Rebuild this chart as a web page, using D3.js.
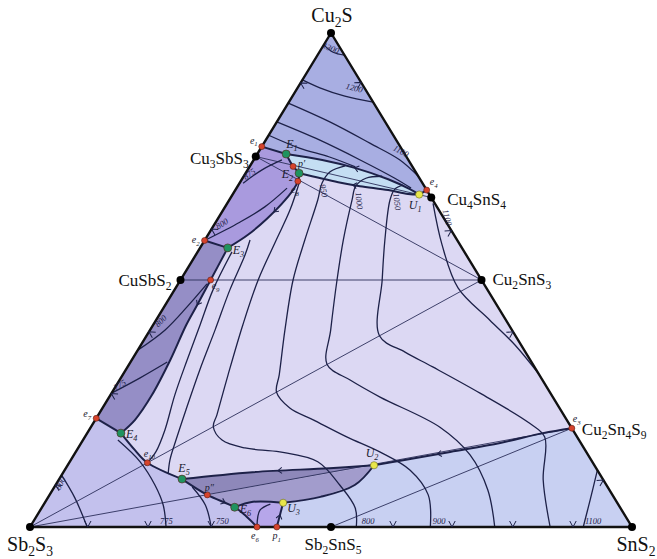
<!DOCTYPE html>
<html><head><meta charset="utf-8">
<script src="https://cdn.jsdelivr.net/npm/d3@7"></script>
<style>body{margin:0;background:#fff}svg{display:block}</style>
</head><body>
<svg id="c" width="657" height="559"></svg>
<script>
// All compositions are [mol% Cu2S, mol% SnS2]; Sb2S3 is the remainder.
const compounds = [["Cu2S",100,0],["Sb2S3",0,0],["SnS2",0,100],["Cu3SbS3",75,0],["CuSbS2",50,0],
  ["Cu4SnS4",66.7,33.3],["Cu2SnS3",50,50],["Sb2SnS5",0,50]];
const invariantPoints = [["e1",77,0,"e"],["E1",75.5,4.8,"E"],["p'",73,7.2,"e"],["E2",71.6,8.9,"E"],["e8",70,9.5,"e"],
  ["U1",67.3,31,"U"],["e4",68.2,31.8,"e"],["e2",58,0,"e"],["E3",56.5,4.6,"E"],["e9",50,5,"e"],
  ["e7",22,0,"e"],["E4",19,5.6,"E"],["e10",13,13,"e"],["E5",9.7,20.4,"E"],["p''",6.5,26.2,"e"],
  ["E6",4,32,"E"],["e6",0,37.7,"e"],["p1",0,41,"e"],["U3",4.9,39.6,"U"],["U2",12.5,50.9,"U"],["e3",20,80,"e"]];
const extraLabel = ["Cu2Sn4S9",20,80];

// univariant boundary curves
const bE1 = [[77,0],[75.5,4.8]];
const upperE1U1 = [[75.5,4.8],[74.3,11.4],[72.7,17.6],[70.4,24.3],[68.4,28.9],[67.3,31]];
const lowerE2U1 = [[71.6,8.9],[69.8,16.3],[69,20.3],[68.2,25.4],[67.4,29.1],[67.3,31]];
const bU1e4 = [[67.3,31],[68.2,31.8]];
const bE1E2 = [[75.5,4.8],[73,7.2],[71.6,8.9],[70,9.5]];
const purpleRight = [[70,9.5],[69.2,9.6],[66.2,9.3],[62.5,8.2],[59.1,6.6],[56.5,4.6]];
const bE3e2 = [[58,0],[56.5,4.6]];
const stripRight = [[56.5,4.6],[50,5],[44.9,5.3],[40.9,5.5],[33.8,6.4],[26.7,6.9],[21.7,6.6],[19,5.6]];
const be7E4 = [[22,0],[19,5.6]];
const bE4E5 = [[19,5.6],[15.6,9.6],[13,13],[9.7,20.4]];
const bE5e6 = [[9.7,20.4],[6.5,26.2],[4,32],[2.2,34.8],[0,37.7]];
const bE5U2 = [[9.7,20.4],[11.1,31.4],[11.9,43.8],[12.5,50.9]];
const bU2U3 = [[12.5,50.9],[8.5,49.7],[6.1,45.2],[4.9,39.6]];
const bU3E6 = [[4.9,39.6],[5.1,34.5],[4,32]];
const bU3p1 = [[4.9,39.6],[0,41]];
const bU2e3 = [[12.5,50.9],[13.4,54.8],[15.2,62.2],[17,69.6],[19,75.7],[20,80]];

// tie lines (joins)
const tieLines = [[[50,0],[50,50]],[[75,0],[50,50]],[[0,0],[50,50]],[[0,0],[20,80]],[[0,50],[20,80]],[[75,0],[66.7,33.3]]];

// isotherms
const iso1300 = [[97.6,0],[96.1,2.3],[95.5,4.5]];
const iso1200 = [[90.5,0],[88.9,3.7],[87.2,8.7],[86,14]];
const iso1100 = [[85.8,0],[82,8.8],[77.7,17.6],[74.3,24.3],[71,29]];
const isoL4 = [[82,0],[78.3,9],[74.3,17.7],[70.6,25.3],[68.6,29]];
const isoL5 = [[79.3,0],[76.7,6.4],[74.9,12.3],[72.9,17.6]];
const isoC1 = [[70.2,9.75],[64.2,11.1],[57.7,11.9],[50,12.9],[40.9,14.9],[30.8,17.5],[22.7,19.7],[20.3,20.3],[17.6,23.1],[16,27.7],[15.2,33.9],[13.2,41.2],[8.5,47.2],[3.85,52.1],[0,54.2]];
const isoC2 = [[73.1,15.8],[71.9,13.9],[69.6,13.7],[66.2,14.7],[58.1,16.6],[50,18.7],[39.9,22.4],[30.8,26],[27.3,27.3],[24.1,31.1],[21.7,36.2],[18.2,43.6],[15.2,50.5],[11.5,57.4],[6.5,62.9],[0,66.5]];
const isoC3 = [[71,23],[70.6,20.5],[69,19.6],[66.2,20.4],[58.1,23],[50,26],[39.9,30],[32.9,32.9],[29.75,38.3],[26.3,45],[20.2,58],[14.6,65.8],[7.5,72.3],[0,77.2]];
const isoC4 = [[69.2,27.4],[68.4,26.4],[66.2,26.7],[58.1,29.9],[50,33.5],[38.7,38.7],[35.4,44.6],[32.4,50.7],[27.1,61.2],[21,72.5],[18.2,76.4],[9.5,80.5],[0,86.4]];
const isoC5 = [[65.5,34.2],[57.1,39.9],[48.4,46.9],[41.9,55.4],[36.8,62.2],[31,69]];
const isoNearStripA = [[55.7,5.7],[48,6.4],[40.9,7.8],[33.8,9.2],[26.7,10.7],[19.6,12.6],[15.2,13.3],[13,13]];
const isoNearStripB = [[58.1,7.5],[55,8.2],[48,9.2],[39.9,10.8],[31.8,12.3],[23.7,14.05],[17.6,15.45],[13.6,16.45],[10.7,17.6]];
const isoStrip800 = [[49.2,4.8],[44.5,3.8],[39.9,2.5],[35.8,0]];
const isoStrip775 = [[27.1,0],[30.2,3.2],[33.4,6.1]];
const isoCu3800 = [[58,0],[61.7,4.0],[64.8,6.6],[68.6,8.4]];
const isoCu3875 = [[69.6,0.6],[72.3,2.4],[74.3,4.7]];
const isoSb800 = [[10.5,0],[5.9,4.5],[0,9.5]];
const isoSb775 = [[17.6,5.8],[13.2,11.7],[8.5,16.5],[4.45,19.9],[0,22.6]];
const isoSb750 = [[8.1,22.9],[4.45,26.9],[0,30.1]];
const isoSn1100 = [[11.5,88.5],[5.5,90.3],[0,91.9]];
const isoP1 = [[0,37.7],[3.4,36.5],[4.65,37.6]];

// isotherm labels: text, Cu2S, SnS2, rotation
const isoLabels = [["1300",96.4,1.6,22],["1200",88.3,9.6,14],["1100",75.6,23.6,28],["950",68.0,14.3,80],
  ["1000",66.0,21.2,84],["1050",65.8,27.6,84],["1100",62.5,37.6,76],["800",60.9,1.7,-32],["875",71,1.2,-36],
  ["800",41.3,1.4,-45],["775",28.3,1.0,-30],["800",8.6,1.2,-62],["775",0.7,22.3,0],["750",0.7,31.6,0],
  ["800",0.7,55.8,0],["900",0.7,67.6,0],["1100",0.7,93.2,0]];

// edge chevron positions
const baseTicks = [9.6,19.6,30.1,60.3,70.1,80.2,90.2];   // SnS2 %
const leftTicks = [89.9,60.3,39.5,27,8.5];              // Cu2S %
const rightTicks = [90,60,39.5,9.5];                    // Cu2S %

// ---------- layout ----------
const xs = d3.scaleLinear().domain([0,100]).range([30,632]);
const ys = d3.scaleLinear().domain([0,100]).range([527,33]);
const P = d => [xs(d[1] + d[0]/2), ys(d[0])];
const svg = d3.select("#c");
const lin = d3.line().x(d=>P(d)[0]).y(d=>P(d)[1]);
const smooth = d3.line().x(d=>P(d)[0]).y(d=>P(d)[1]).curve(d3.curveCatmullRom.alpha(0.5));
const ink = "#1d2148";

function fill(arr, color){ svg.append("path").attr("d", lin(arr)+"Z").attr("fill", color).attr("stroke","none"); }
const rev = a => a.slice().reverse();

// fields
fill([[100,0],[0,0],[0,100]], "#dcd8f3");
fill([[100,0],[77,0]].concat(upperE1U1, [[68.2,31.8]]), "#a8aee2");
fill(upperE1U1.concat(rev(lowerE2U1), [[73,7.2]]), "#c4def3");
fill([[77,0],[75.5,4.8],[73,7.2],[71.6,8.9]].concat(purpleRight, [[58,0]]), "#a99ade");
fill([[58,0]].concat(stripRight, [[22,0]]), "#958ec6");
fill([[0,0],[22,0],[19,5.6],[15.6,9.6],[13,13],[9.7,20.4],[6.5,26.2],[4,32],[2.2,34.8],[0,37.7]], "#c3c1ed");
fill(bU2e3.concat([[0,100],[0,41],[4.9,39.6],[6.1,45.2],[8.5,49.7]]), "#c8d0f2");
fill(bE5U2.concat([[6.5,26.2]]), "#8e88ba");
fill([[6.5,26.2],[12.5,50.9],[8.5,49.7],[6.1,45.2],[4.9,39.6],[5.1,34.5],[4,32]], "#a29ccc");
fill([[4,32],[5.1,34.5],[4.9,39.6],[0,41],[0,37.7],[2.2,34.8]], "#b6a6ea");

// tie lines
tieLines.forEach(t => svg.append("path").attr("d", lin(t)).attr("fill","none").attr("stroke","#2b2f5a").attr("stroke-width",0.9));

// isotherms
[iso1300,iso1200,iso1100,isoL4,isoL5,isoC1,isoC2,isoC3,isoC4,isoC5,isoNearStripA,isoNearStripB,isoStrip800,isoStrip775,
 isoCu3800,isoCu3875,isoSb800,isoSb775,isoSb750,isoSn1100,isoP1].forEach(c =>
  svg.append("path").attr("d", smooth(c)).attr("fill","none").attr("stroke", ink).attr("stroke-width",1.3));

// boundaries
const boundaries = [bE1,upperE1U1,lowerE2U1,bU1e4,bE1E2,purpleRight,bE3e2,stripRight,be7E4,bE4E5,bE5e6,bE5U2,bU2U3,bU3E6,bU3p1,bU2e3];
const bPaths = boundaries.map(b => svg.append("path").attr("d", smooth(b)).attr("fill","none").attr("stroke", ink).attr("stroke-width",2).attr("stroke-linejoin","round"));

// arrows along boundaries: [index into boundaries, fraction, direction]
const arrowSpec = [[2,0.45,-1],[1,0.5,-1],[15,0.32,-1],[11,0.5,-1],[7,0.3,1],[9,0.55,1],[10,0.55,1],[5,0.4,1],[14,0.5,-1]];
arrowSpec.forEach(([i,f,dir]) => {
  const node = bPaths[i].node(), L = node.getTotalLength();
  const p = node.getPointAtLength(L*f), q = node.getPointAtLength(Math.min(L, Math.max(0, L*f + dir*2)));
  const ang = Math.atan2(q.y-p.y, q.x-p.x)*180/Math.PI;
  svg.append("path").attr("d","M-4,-3L0,0L-4,3").attr("fill","none").attr("stroke",ink).attr("stroke-width",1)
    .attr("transform",`translate(${p.x},${p.y}) rotate(${ang})`);
});

// triangle edges
svg.append("path").attr("d", lin([[100,0],[0,0],[0,100]])+"Z").attr("fill","none").attr("stroke","#111").attr("stroke-width",2.4).attr("stroke-linejoin","miter");

// edge chevrons
function chev(pt, rot){
  const [x,y] = P(pt);
  svg.append("path").attr("d","M-3.2,-6L0,0L3.2,-6").attr("fill","none").attr("stroke",ink).attr("stroke-width",1)
    .attr("transform",`translate(${x},${y}) rotate(${rot})`);
}
baseTicks.forEach(c => chev([0,c], 0));
leftTicks.forEach(a => chev([a,0], 121.4));
rightTicks.forEach(a => chev([a,100-a], -121.4));

// isotherm labels
isoLabels.forEach(([t,a,c,r]) => {
  const [x,y] = P([a,c]);
  svg.append("text").attr("x",x).attr("y",y).attr("transform",`rotate(${r},${x},${y})`)
    .attr("text-anchor","middle").attr("font-family","Liberation Serif").attr("font-style","italic")
    .attr("font-size",8.5).attr("fill","#1d2148").text(t);
});

// rich text helper (digits -> subscripts)
function rich(sel, str, size){
  const runs = str.match(/[0-9]+|[^0-9]+/g);
  runs.forEach((r,i) => {
    const sub = /^[0-9]+$/.test(r);
    const t = sel.append("tspan").text(r);
    if (sub) t.attr("font-size", size*0.68).attr("dy", size*0.25);
    else if (i>0) t.attr("dy", -size*0.25);
  });
}

// compound points
compounds.forEach(([n,a,c]) => { const [x,y]=P([a,c]); svg.append("circle").attr("cx",x).attr("cy",y).attr("r",4).attr("fill","#000"); });

// invariant points
const pColor = {e:"#d6432c", E:"#1f9360", U:"#e8e64a"};
const pR = {e:3, E:4, U:3.6};
invariantPoints.forEach(([n,a,c,t]) => {
  const [x,y]=P([a,c]);
  svg.append("circle").attr("cx",x).attr("cy",y).attr("r",pR[t]).attr("fill",pColor[t])
    .attr("stroke", t==="U" ? "#6a6a20" : "#5a1e14").attr("stroke-width",0.6);
});

// compound labels layout: dx, dy, anchor, size
const compLayout = {"Cu2S":[1,-11,"middle",20],"Sb2S3":[0,24,"middle",20],"SnS2":[4,24,"middle",20],
  "Cu3SbS3":[-7,7,"end",17],"CuSbS2":[-9,6,"end",17],"Cu4SnS4":[16,7,"start",17],"Cu2SnS3":[11,5,"start",17],
  "Sb2SnS5":[2,23,"middle",17],"Cu2Sn4S9":[10,7,"start",17]};
compounds.concat([extraLabel]).forEach(([n,a,c]) => {
  const [x,y]=P([a,c]); const [dx,dy,anc,sz]=compLayout[n];
  const t = svg.append("text").attr("x",x+dx).attr("y",y+dy).attr("text-anchor",anc)
    .attr("font-family","Liberation Serif").attr("font-size",sz).attr("fill","#111");
  rich(t, n, sz);
});

// invariant labels layout: dx, dy, anchor
const ptLayout = {"e1":[-4,-3,"end"],"E1":[0,-6,"start"],"p'":[5,1,"start"],"E2":[-6,5,"end"],"e8":[-3,12,"middle"],
  "U1":[-4,14,"middle"],"e4":[3,-5,"start"],"e2":[-5,3,"end"],"E3":[5,6,"start"],"e9":[5,9,"middle"],
  "e7":[-5,-1,"end"],"E4":[5,5,"start"],"e10":[2,-6,"middle"],"E5":[2,-7,"middle"],"p''":[2,-4,"middle"],
  "E6":[5,6,"start"],"e6":[-2,12,"middle"],"p1":[0,12,"middle"],"U3":[4,9,"start"],"U2":[-2,-8,"middle"],"e3":[1,-6,"start"]};
invariantPoints.forEach(([n,a,c,t]) => {
  const [x,y]=P([a,c]); const [dx,dy,anc]=ptLayout[n];
  const sz = t==="e" ? 10 : 12;
  const txt = svg.append("text").attr("x",x+dx).attr("y",y+dy).attr("text-anchor",anc)
    .attr("font-family","Liberation Serif").attr("font-style","italic").attr("font-size",sz).attr("fill","#1a1a2e");
  rich(txt, n.replace("''","\u2033").replace("'","\u2032"), sz);
});
</script>
</body></html>
